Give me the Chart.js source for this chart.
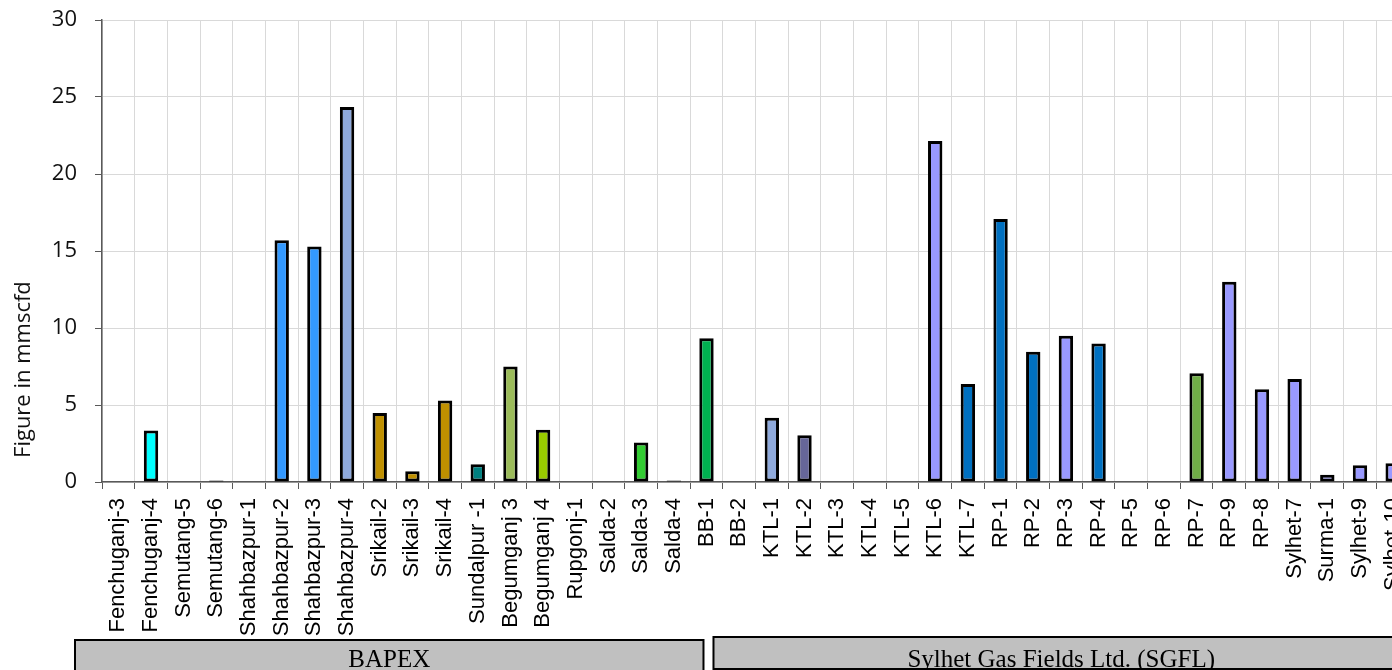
<!DOCTYPE html>
<html>
<head>
<meta charset="utf-8">
<script src="https://cdn.jsdelivr.net/npm/chart.js@4"></script>
<style>
  html, body { margin: 0; padding: 0; overflow: hidden; background: #fff; width: 1392px; height: 670px; }
  #wrap { width: 1420px; height: 670px; }
</style>
</head>
<body>
<div id="wrap"><canvas id="c" width="1420" height="670"></canvas></div>
<script>
const categories = [
  'Fenchuganj-3','Fenchuganj-4','Semutang-5','Semutang-6','Shahbazpur-1','Shahbazpur-2',
  'Shahbazpur-3','Shahbazpur-4','Srikail-2','Srikail-3','Srikail-4','Sundalpur -1',
  'Begumganj 3','Begumganj 4','Rupgonj-1','Salda-2','Salda-3','Salda-4','BB-1','BB-2',
  'KTL-1','KTL-2','KTL-3','KTL-4','KTL-5','KTL-6','KTL-7','RP-1','RP-2','RP-3','RP-4',
  'RP-5','RP-6','RP-7','RP-9','RP-8','Sylhet-7','Surma-1','Sylhet-9','Sylhet-10'
];
const values = [
  0, 3.35, 0, 0.1, 0, 15.7,
  15.3, 24.35, 4.48, 0.7, 5.3, 1.15,
  7.5, 3.4, 0, 0, 2.57, 0.1, 9.33, 0,
  4.17, 3.03, 0, 0, 0, 22.15, 6.36, 17.08, 8.46, 9.5, 9.0,
  0, 0, 7.06, 13.0, 6.02, 6.69, 0.47, 1.08, 1.21
];
const barColors = [
  '#00FFFF','#00FFFF','#3399FF','#000000','#3399FF','#3399FF',
  '#3399FF','#8FAADC','#BF9000','#BF9000','#BF9000','#008080',
  '#9BBB59','#99CC00','#99CC00','#33CC33','#33CC33','#000000','#00B050','#00B050',
  '#8FAADC','#666699','#9999FF','#9999FF','#9999FF','#9999FF','#0070C0','#0070C0','#0070C0','#9999FF','#0070C0',
  '#0070C0','#0070C0','#70AD47','#9999FF','#9999FF','#9999FF','#9999FF','#9999FF','#9999FF'
];
const yMin = 0, yMax = 30, yStep = 5;
const yTitle = 'Figure in mmscfd';
const groupNames = ['BAPEX', 'Sylhet Gas Fields Ltd. (SGFL)'];
const groupSplitIndex = 18; // boundary of the two groups falls at this category

const groupPlugin = {
  id: 'groups',
  afterDraw(chart) {
    const ctx = chart.ctx;
    const xs = chart.scales.x;
    const ys = chart.scales.y;
    const base = chart.chartArea.bottom;
    const split = xs.getPixelForValue(groupSplitIndex);
    const boxes = [
      { name: groupNames[0], l: xs.left - 27, r: split - 3, t: base + 158, b: base + 190 },
      { name: groupNames[1], l: split + 7, r: xs.right, t: base + 155, b: base + 187 }
    ];
    ctx.save();
    boxes.forEach(bx => {
      ctx.fillStyle = '#C0C0C0';
      ctx.fillRect(bx.l, bx.t, bx.r - bx.l, bx.b - bx.t);
      ctx.strokeStyle = '#000';
      ctx.lineWidth = 2;
      ctx.strokeRect(bx.l, bx.t, bx.r - bx.l, bx.b - bx.t);
      ctx.fillStyle = '#000';
      ctx.font = '25px "Liberation Serif"';
      ctx.textAlign = 'center';
      ctx.textBaseline = 'alphabetic';
      ctx.fillText(bx.name, (bx.l + bx.r) / 2, base + 185);
    });
    // y-axis title (placed lower than the axis middle, as in the original)
    ctx.translate(24, ys.getPixelForValue(7.3));
    ctx.rotate(-Math.PI / 2);
    ctx.fillStyle = '#111';
    ctx.font = '22px "Open Sans"';
    ctx.textAlign = 'center';
    ctx.textBaseline = 'middle';
    ctx.fillText(yTitle, 0, 0);
    ctx.restore();
  }
};

new Chart(document.getElementById('c'), {
  type: 'bar',
  data: {
    labels: categories,
    datasets: [{
      data: values,
      backgroundColor: barColors,
      borderColor: '#000',
      borderWidth: 3,
      borderSkipped: false,
      barPercentage: 0.44,
      categoryPercentage: 1
    }]
  },
  options: {
    responsive: false,
    animation: false,
    devicePixelRatio: 1,
    layout: { padding: { top: 20, right: 11, left: 0, bottom: 0 } },
    plugins: { legend: { display: false }, tooltip: { enabled: false } },
    scales: {
      x: {
        type: 'category',
        grid: { offset: true, color: '#d9d9d9', tickColor: '#595959', tickLength: 7, lineWidth: 1 },
        border: { color: '#595959', width: 1.5 },
        ticks: {
          autoSkip: false, minRotation: 90, maxRotation: 90, padding: 9,
          color: '#000', font: { family: '"Liberation Sans", Arial', size: 22 }
        },
        afterFit(s) { s.height = 188; s.paddingRight = 0; }
      },
      y: {
        min: yMin, max: yMax,
        ticks: { stepSize: yStep, padding: 18, color: '#111', font: { family: '"Open Sans"', size: 22 } },
        grid: { color: '#d9d9d9', tickColor: '#595959', tickLength: 7, lineWidth: 1 },
        border: { color: '#595959', width: 1.5 },
        title: { display: false, text: yTitle },
        afterFit(s) { s.width = 102; s.paddingTop = 0; s.paddingBottom = 0; }
      }
    }
  },
  plugins: [groupPlugin]
});
</script>
</body>
</html>
